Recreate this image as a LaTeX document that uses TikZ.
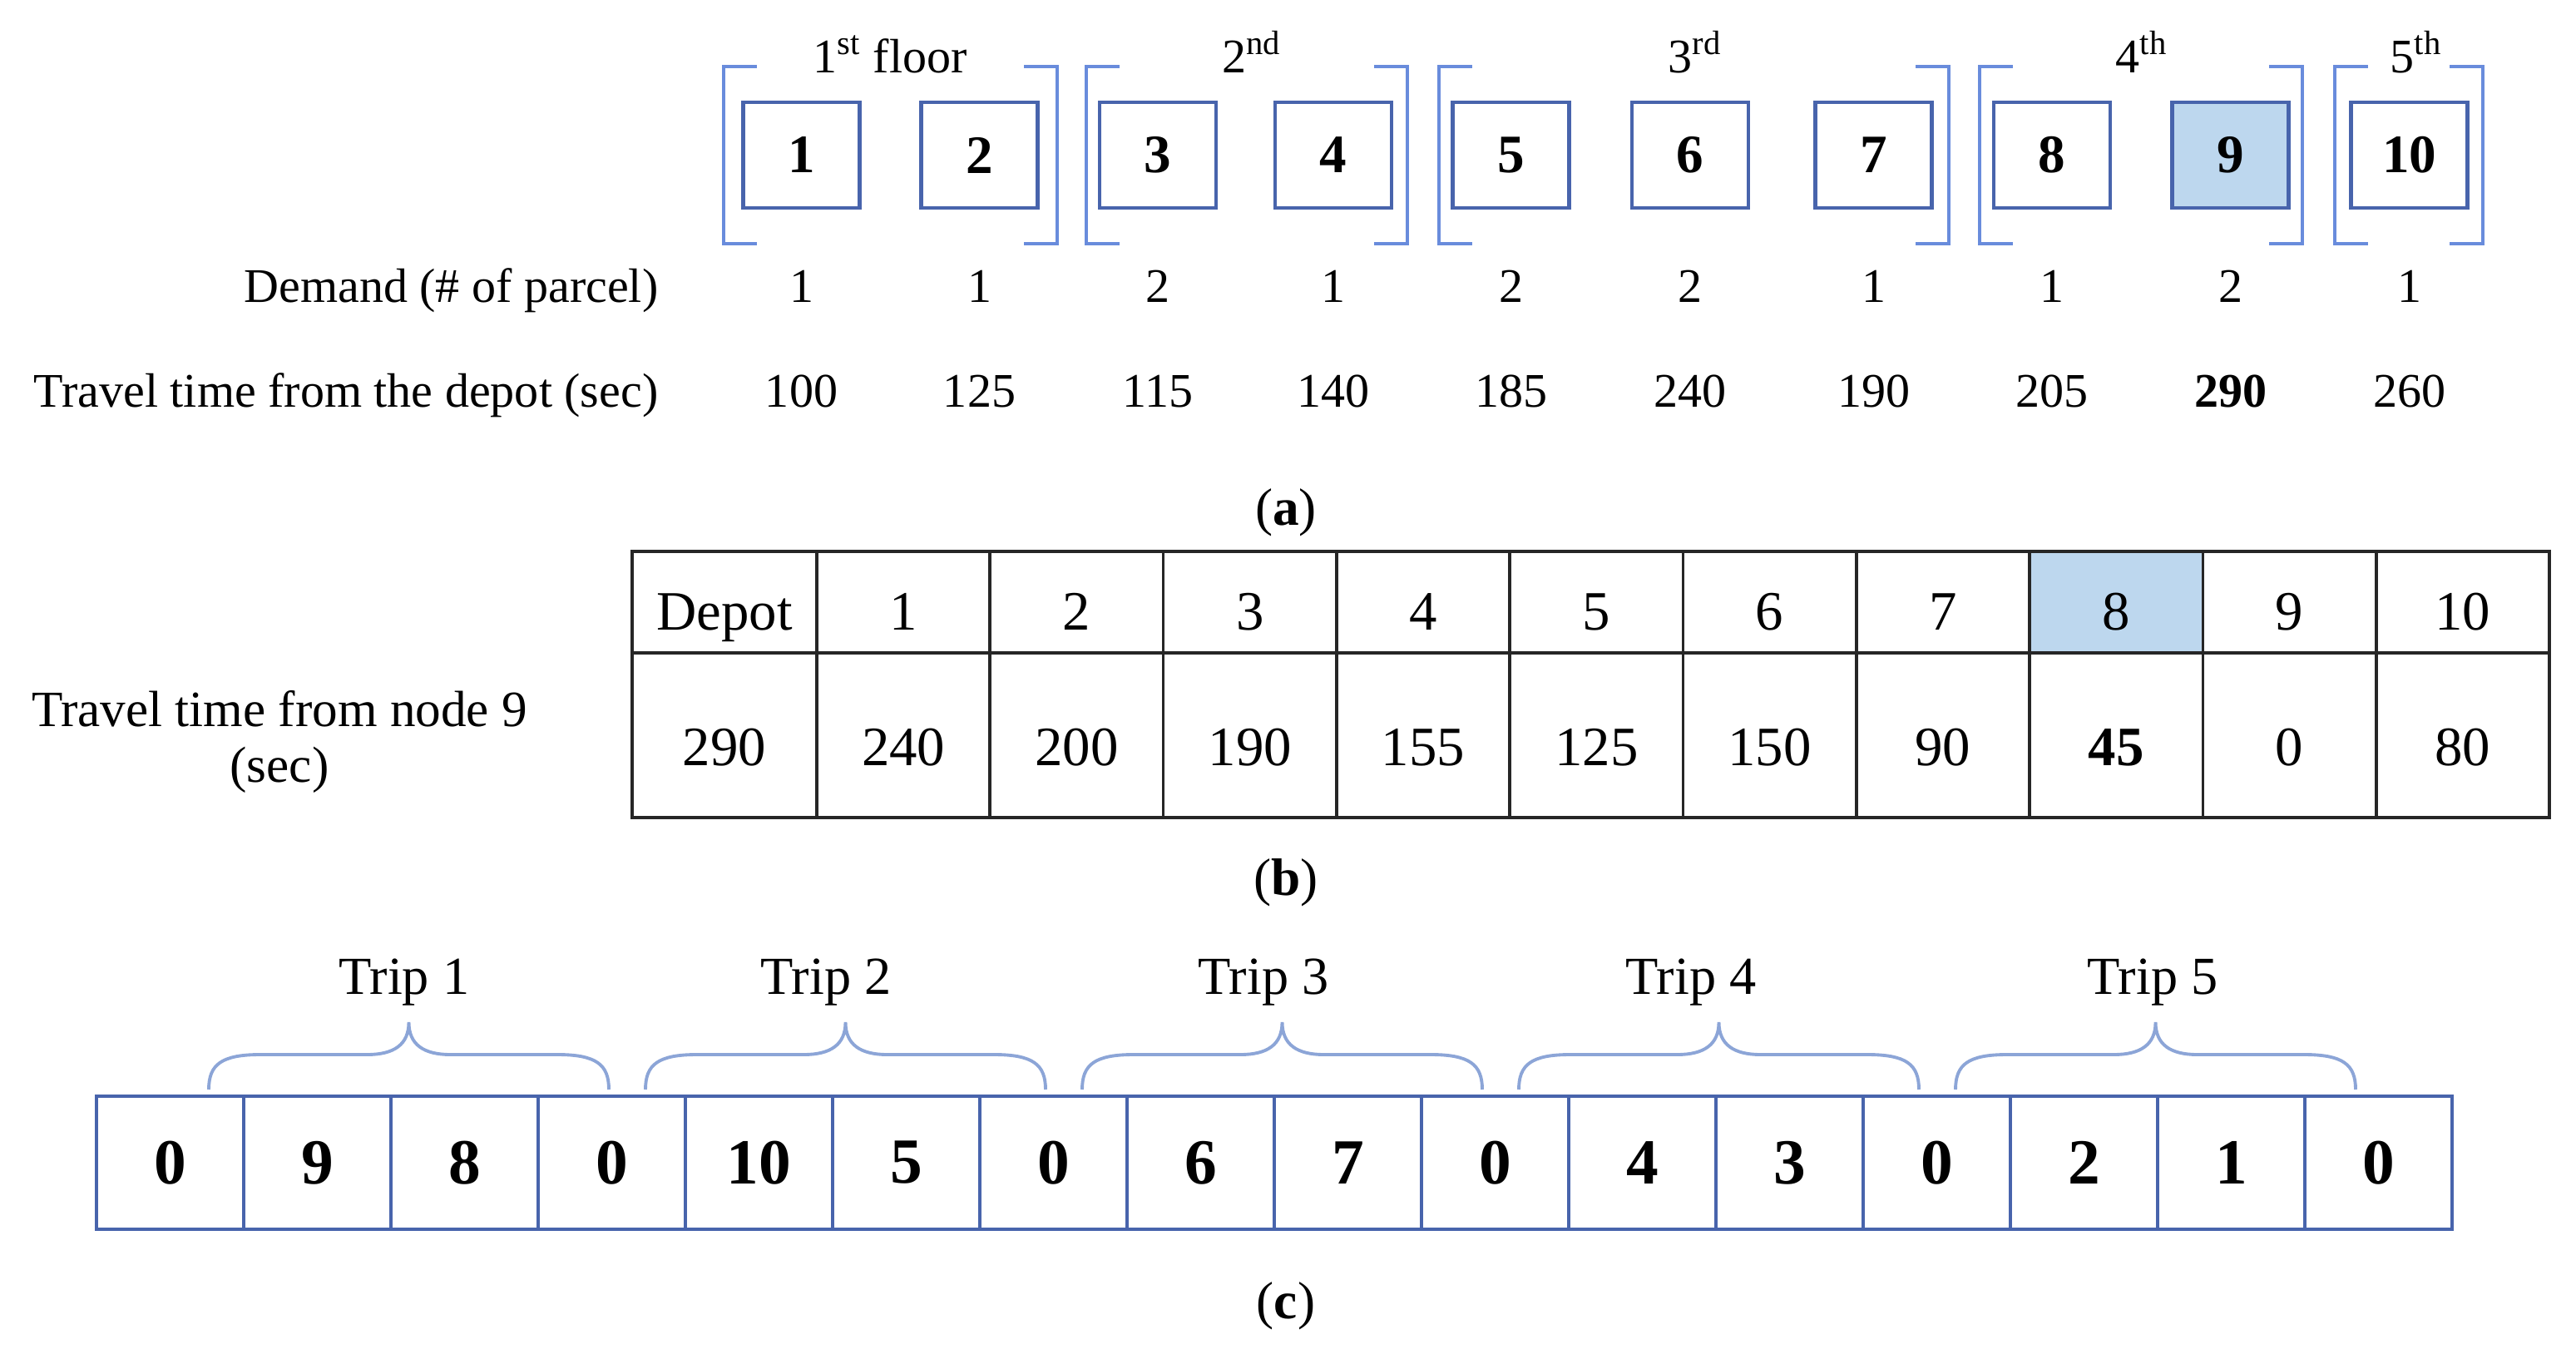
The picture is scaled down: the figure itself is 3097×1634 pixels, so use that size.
\documentclass[tikz,border=0pt]{standalone}
\usepackage{fontspec}
\setmainfont{Liberation Serif}
\definecolor{boxblue}{RGB}{72,100,172}
\definecolor{brkblue}{RGB}{105,140,220}
\definecolor{brcblue}{RGB}{140,165,215}
\definecolor{cellfill}{RGB}{189,215,238}
\begin{document}
\begin{tikzpicture}[x=0.01cm,y=-0.01cm,
  abox/.style={draw=boxblue,line width=1.3pt,minimum width=1.40cm,minimum height=1.27cm,inner sep=0pt,font=\fontsize{18.5}{20}\selectfont\bfseries},
  flab/.style={anchor=base,inner sep=0pt,font=\fontsize{16.5}{18}\selectfont},
  rowlab/.style={inner sep=0pt,font=\fontsize{16.5}{18}\selectfont},
  brk/.style={draw=brkblue,line width=0.9pt},
  tcell/.style={draw=black!85,line width=1pt,inner sep=0pt},
  ttext/.style={anchor=base,inner sep=0pt,font=\fontsize{19}{21}\selectfont},
  ccell/.style={draw=boxblue,line width=1.3pt,minimum width=1.77cm,minimum height=1.60cm,inner sep=0pt,font=\fontsize{22}{24}\selectfont\bfseries},
  brc/.style={draw=brcblue,line width=1.1pt},
  triplab/.style={anchor=base,inner sep=0pt,font=\fontsize{18.3}{20}\selectfont},
  caption/.style={inner sep=0pt,font=\fontsize{18}{20}\selectfont}]
\useasboundingbox (0,0) rectangle (3097,1634);

% ---------- (a) ----------
\foreach \n/\x in {1/963.5,2/1177.5,3/1392,4/1603,5/1816.5,6/2032,7/2252.5,8/2467,10/2896.5}
  \node[abox] (b\n) at (\x,186.5) {\n};
\node[abox,fill=cellfill] (b9) at (2681.5,186.5) {9};

% brackets
\foreach \l/\r in {870/1271,1306/1692,1730/2343,2380/2768,2807/2985}{
  \draw[brk] (\l+40,80) -- (\l,80) -- (\l,293) -- (\l+40,293);
  \draw[brk] (\r-40,80) -- (\r,80) -- (\r,293) -- (\r-40,293);
}
\node[flab] (f1) at (1070,88) {1\textsuperscript{st} floor};
\node[flab] (f2) at (1505,88) {2\textsuperscript{nd}};
\node[flab] (f3) at (2038,88) {3\textsuperscript{rd}};
\node[flab] (f4) at (2575,88) {4\textsuperscript{th}};
\node[flab] (f5) at (2905,88) {5\textsuperscript{th}};

\node[rowlab,anchor=base east] (dem) at (792,364) {Demand (\# of parcel)};
\node[rowlab,anchor=base east] (trv) at (792,490) {Travel time from the depot (sec)};
\foreach \n/\x/\d/\t in {1/963.5/1/100,2/1177.5/1/125,3/1392/2/115,4/1603/1/140,5/1816.5/2/185,6/2032/2/240,7/2252.5/1/190,8/2467/1/205,10/2896.5/1/260}{
  \node[rowlab,anchor=base] (d\n) at (\x,364) {\d};
  \node[rowlab,anchor=base] (t\n) at (\x,490) {\t};
}
\node[rowlab,anchor=base] (d9) at (2681.5,364) {2};
\node[rowlab,anchor=base] (t9) at (2681.5,490) {\textbf{290}};
\node[caption] (capa) at (1546,616) {(\textbf{a})};

% ---------- (b) ----------
\node[tcell,minimum width=2.22cm,minimum height=1.22cm] (h0) at (871,724) {};
\node[tcell,minimum width=2.22cm,minimum height=1.98cm] (v0) at (871,884) {};
\node[ttext] (ht0) at (871,758) {Depot};
\node[ttext] (vt0) at (871,920) {290};
\node[tcell,fill=cellfill,minimum width=2.083cm,minimum height=1.22cm] (h8) at ({982+208.3*7.5},724) {};
\foreach \i/\v in {1/240,2/200,3/190,4/155,5/125,6/150,7/90,8/\textbf{45},9/0,10/80}{
  \ifnum\i=8\else
  \node[tcell,minimum width=2.083cm,minimum height=1.22cm] (h\i) at ({982+208.3*(\i-0.5)},724) {};
  \fi
  \node[tcell,minimum width=2.083cm,minimum height=1.98cm] (v\i) at ({982+208.3*(\i-0.5)},884) {};
  \node[ttext] (ht\i) at ({982+208.3*(\i-0.5)},758) {\i};
  \node[ttext] (vt\i) at ({982+208.3*(\i-0.5)},920) {\v};
}
\node[rowlab,align=center,font=\fontsize{17.4}{19}\selectfont] (tl) at (336,892) {Travel time from node 9\\(sec)};
\node[caption] (capb) at (1546,1061) {(\textbf{b})};

% ---------- (c) ----------
\foreach \k/\v in {0/0,1/9,2/8,3/0,4/10,5/5,6/0,7/6,8/7,9/0,10/4,11/3,12/0,13/2,14/1,15/0}
  \node[ccell] (c\k) at ({116+177*(\k+0.5)},1398) {\v};

\foreach \i in {0,...,4}{
  \pgfmathsetmacro{\xa}{251+525*\i}
  \pgfmathsetmacro{\xb}{\xa+481}
  \pgfmathsetmacro{\xm}{(\xa+\xb)/2}
  \draw[brc] (\xa,1310) .. controls (\xa,1280) and (\xa+15,1268) .. (\xa+62,1268)
     -- (\xm-50,1268) .. controls (\xm-18,1268) and (\xm,1256) .. (\xm,1229)
     .. controls (\xm,1256) and (\xm+18,1268) .. (\xm+50,1268)
     -- (\xb-62,1268) .. controls (\xb-15,1268) and (\xb,1280) .. (\xb,1310);
}
\node[triplab] (tr1) at (486,1195) {Trip 1};
\node[triplab] (tr2) at (993,1195) {Trip 2};
\node[triplab] (tr3) at (1519,1195) {Trip 3};
\node[triplab] (tr4) at (2033,1195) {Trip 4};
\node[triplab] (tr5) at (2588,1195) {Trip 5};
\node[caption] (capc) at (1546,1570) {(\textbf{c})};
\end{tikzpicture}
\end{document}
